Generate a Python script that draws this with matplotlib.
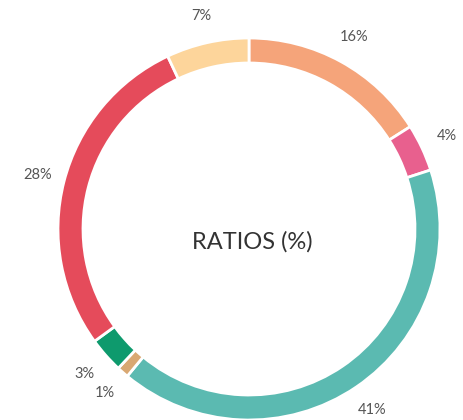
import matplotlib
matplotlib.use("Agg")
import matplotlib.pyplot as plt

# Ratio shares, clockwise from 12 o'clock
values = [16, 4, 41, 1, 3, 28, 7]
colors = ["#F5A47A", "#E8608E", "#5BBAB1", "#D9A872", "#0E9A6D", "#E54B5B", "#FDD59B"]
labels = [f"{v}%" for v in values]

W, H = 464, 420
cx, cy = 249, H - 229
radius = 191
ring = 25

plt.rcParams["font.family"] = ["Lato", "DejaVu Sans"]

fig = plt.figure(figsize=(W / 100, H / 100), dpi=100)
ax = fig.add_axes([0, 0, 1, 1])

wedges, _, pcts = ax.pie(
    values,
    colors=colors,
    startangle=90,
    counterclock=False,
    center=(cx, cy),
    radius=radius,
    autopct=lambda p: f"{p:.0f}%",
    pctdistance=1.145,
    wedgeprops=dict(width=ring, edgecolor="white", linewidth=2),
    textprops=dict(fontsize=10.5, color="#555555"),
    frame=True,
)
ax.set_xlim(0, W)
ax.set_ylim(0, H)
ax.axis("off")

ax.text(cx + 3, cy - 13, "RATIOS (%)", ha="center", va="center",
        fontsize=17, color="#333333")

fig.savefig("out.png", dpi=100)
